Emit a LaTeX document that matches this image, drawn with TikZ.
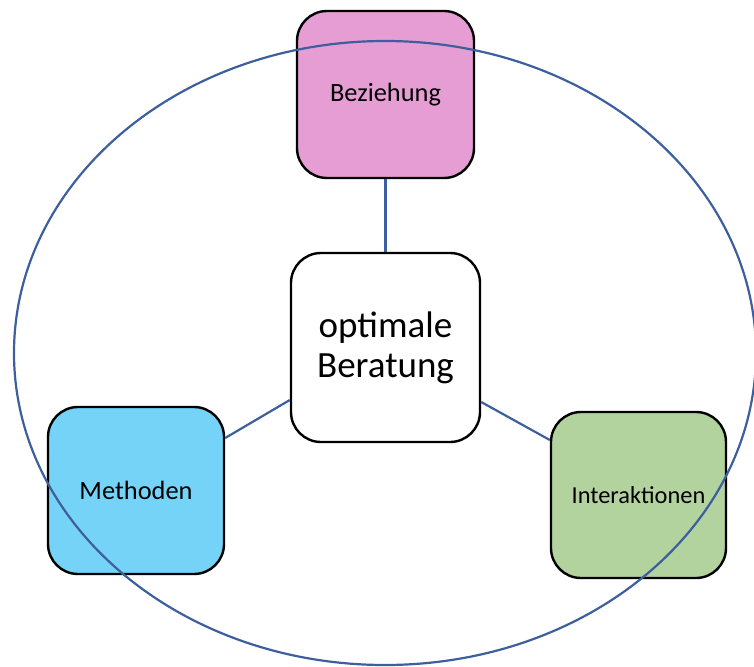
\documentclass[tikz,border=0pt]{standalone}
\usepackage{fontspec}
\setmainfont{Carlito}
\definecolor{linkblue}{HTML}{3E5F9E}
\definecolor{pinkfill}{HTML}{E59DD4}
\definecolor{bluefill}{HTML}{75D3F7}
\definecolor{greenfill}{HTML}{B2D39E}
\begin{document}
\begin{tikzpicture}[x=1pt,y=-1pt,
  box/.style={draw=black, line width=2.4pt, rounded corners=30pt, minimum width=#1, align=center, inner sep=0pt},
  link/.style={draw=linkblue, line width=2.2pt}]
\useasboundingbox (0,0) rectangle (754,666);
\node[box=177pt, minimum height=167pt, fill=pinkfill, font=\fontsize{26.4}{30}\selectfont] (bez) at (385.5,94.5) {Beziehung};
\node[box=189pt, minimum height=189pt, fill=white, font=\fontsize{37}{40}\selectfont] (opt) at (385.5,347.5) {optimale\\Beratung};
\node[box=176pt, minimum height=167pt, fill=bluefill, font=\fontsize{26.4}{30}\selectfont] (met) at (136,490.5) {Methoden};
\node[box=175pt, minimum height=166pt, fill=greenfill, font=\fontsize{24.4}{28}\selectfont] (int) at (638.5,495) {Interaktionen};
\draw[link] (bez.south) -- (opt.north);
\draw[link] (met.east |- 0,438) coordinate (m1) -- (opt.west |- 0,400) coordinate (o1);
\draw[link] (opt.east |- 0,402) coordinate (o2) -- (int.west |- 0,440) coordinate (i1);
\draw[link] (385,353) ellipse [x radius=371, y radius=312];
\end{tikzpicture}
\end{document}
